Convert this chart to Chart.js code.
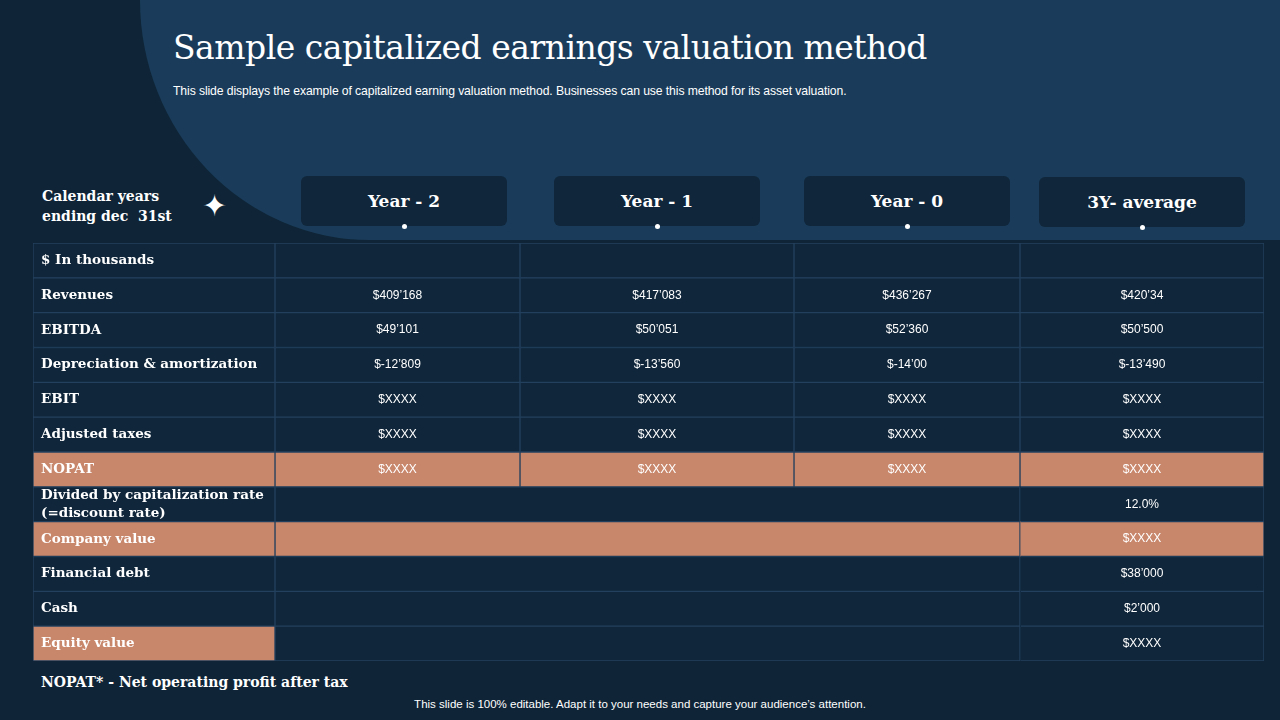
<!DOCTYPE html>
<html>
<head>
<meta charset="utf-8">
<script src="https://cdn.jsdelivr.net/npm/chart.js@4/dist/chart.umd.min.js"></script>
<style>
  body { margin:0; width:1280px; height:720px; background:#0f2537; overflow:hidden; position:relative; font-family:"Liberation Sans", Arial, sans-serif; color:#fff; }
  #shape { position:absolute; left:140px; top:-10px; width:1160px; height:250px; background:#1a3c5a; border-bottom-left-radius:230px 240px; }
  h1 { position:absolute; left:173px; top:28px; margin:0; font:33px "DejaVu Serif", Georgia, serif; font-weight:normal; letter-spacing:-0.5px; }
  .sub { position:absolute; left:173px; top:84px; font-size:12.2px; letter-spacing:-0.1px; }
  .cal { position:absolute; left:42px; top:186px; font:bold 14px "DejaVu Serif", serif; line-height:20px; }
  .star { position:absolute; left:202px; top:186px; font-size:30px; line-height:40px; }
  .hd { position:absolute; top:176px; height:50px; background:#10263a; border-radius:6px; font:bold 17px "DejaVu Serif", serif; display:flex; align-items:center; justify-content:center; }
  .hd::after { content:""; position:absolute; bottom:-3px; left:50%; width:5px; height:5px; margin-left:-2.5px; border-radius:50%; background:#fff; }
  #wrap { position:absolute; left:33px; top:243px; width:1231px; height:418px; }
  .foot { position:absolute; left:41px; top:674px; font:bold 14px "DejaVu Serif", serif; }
  .note { position:absolute; left:0; width:1280px; top:698px; text-align:center; font-size:11.5px; }
</style>
</head>
<body>
<div id="shape"></div>
<h1>Sample capitalized earnings valuation method</h1>
<div class="sub">This slide displays the example of capitalized earning valuation method. Businesses can use this method for its asset valuation.</div>
<div class="cal">Calendar years<br>ending dec&nbsp; 31st</div>
<div class="star">&#10022;</div>
<div class="hd" style="left:301px;width:206px">Year - 2</div>
<div class="hd" style="left:554px;width:206px">Year - 1</div>
<div class="hd" style="left:804px;width:206px">Year - 0</div>
<div class="hd" style="left:1039px;width:206px;top:177px">3Y- average</div>
<div id="wrap"><canvas id="tbl"></canvas></div>
<div class="foot">NOPAT* - Net operating profit after tax</div>
<div class="note">This slide is 100% editable. Adapt it to your needs and capture your audience’s attention.</div>
<script>
const rowLabels = ['$ In thousands', 'Revenues', 'EBITDA', 'Depreciation & amortization', 'EBIT', 'Adjusted taxes', 'NOPAT',
  ['Divided by capitalization rate', '(=discount rate)'], 'Company value', 'Financial debt', 'Cash', 'Equity value'];
const year2 = ['', '$409’168', '$49’101', '$-12’809', '$XXXX', '$XXXX', '$XXXX', '', '', '', '', ''];
const year1 = ['', '$417’083', '$50’051', '$-13’560', '$XXXX', '$XXXX', '$XXXX', '', '', '', '', ''];
const year0 = ['', '$436’267', '$52’360', '$-14’00', '$XXXX', '$XXXX', '$XXXX', '', '', '', '', ''];
const average = ['', '$420’34', '$50’500', '$-13’490', '$XXXX', '$XXXX', '$XXXX', '12.0%', '$XXXX', '$38’000', '$2’000', '$XXXX'];

// layout (not data)
const colW = [242, 245, 274, 226, 244];
const mergedFrom = 7;
const DARK = '#10263a', ORANGE = '#c8866b', LINE = '#23405e';
const orangeCell = (r, c) => r === 6 || (r === 8) || (r === 11 && c === 0);

const columns = [rowLabels, year2, year1, year0, average];
const datasets = columns.map((col, c) => ({
  texts: col,
  data: rowLabels.map((_, r) => {
    if (r >= mergedFrom && c === 1) return colW[1] + colW[2] + colW[3];
    if (r >= mergedFrom && (c === 2 || c === 3)) return 0;
    return colW[c];
  }),
  backgroundColor: rowLabels.map((_, r) => orangeCell(r, c) ? ORANGE : DARK),
  borderColor: LINE,
  borderWidth: rowLabels.map((_, r) => (r >= mergedFrom && (c === 2 || c === 3)) ? 0 : 1),
  borderSkipped: false,
  barPercentage: 1,
  categoryPercentage: 1
}));

const textPlugin = {
  id: 'cellText',
  afterDatasetsDraw(chart) {
    const ctx = chart.ctx;
    ctx.save();
    ctx.fillStyle = '#fff';
    ctx.textBaseline = 'middle';
    chart.data.datasets.forEach((ds, c) => {
      chart.getDatasetMeta(c).data.forEach((el, r) => {
        const t = ds.texts[r];
        if (!t || ds.data[r] === 0) return;
        const lines = Array.isArray(t) ? t : [t];
        if (c === 0) {
          ctx.font = 'bold 13.5px "DejaVu Serif", serif';
          ctx.textAlign = 'left';
        } else {
          ctx.font = '12px "Liberation Sans", Arial, sans-serif';
          ctx.textAlign = 'center';
        }
        const x = c === 0 ? el.base + 8 : (el.x + el.base) / 2;
        lines.forEach((ln, i) => ctx.fillText(ln, x, el.y + (i - (lines.length - 1) / 2) * 18));
      });
    });
    ctx.restore();
  }
};

new Chart(document.getElementById('tbl'), {
  type: 'bar',
  data: { labels: rowLabels.map((_, i) => i), datasets: datasets },
  options: {
    indexAxis: 'y',
    responsive: true,
    maintainAspectRatio: false,
    animation: false,
    layout: { padding: 0 },
    plugins: { legend: { display: false }, tooltip: { enabled: false } },
    scales: {
      x: { stacked: true, display: false, min: 0, max: 1231 },
      y: { stacked: true, display: false }
    }
  },
  plugins: [textPlugin]
});
</script>
</body>
</html>
